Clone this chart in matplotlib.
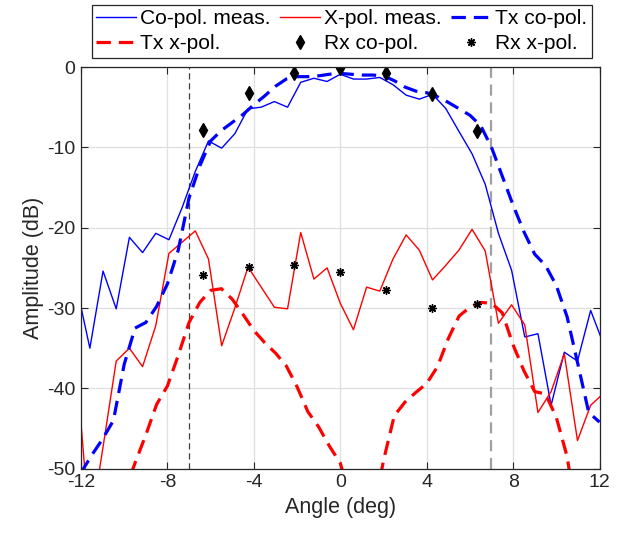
import numpy as np
import matplotlib.pyplot as plt

plt.rcParams['font.family'] = ['Liberation Sans', 'DejaVu Sans']
plt.rcParams['axes.unicode_minus'] = False

# measured cuts, sample step ~0.61 deg
meas_angle = np.round(np.arange(-20, 21) * 0.61, 2)
co_meas = [-27.4, -35.0, -25.4, -30.1, -21.2, -23.1, -20.7, -21.5, -17.5, -13.0,
           -9.2, -10.1, -8.3, -5.2, -5.0, -4.3, -5.0, -1.9, -1.4, -1.8,
           -0.9, -1.5, -1.5, -1.3, -2.2, -3.5, -4.0, -3.4, -5.15, -8.0,
           -10.8, -14.6, -20.7, -25.3, -33.6, -33.2, -42.1, -35.5, -36.6, -30.3,
           -34.6]
x_meas = [-37.9, -57.7, -47.3, -36.6, -35.0, -37.3, -32.2, -23.2, -21.8, -20.4,
          -23.9, -34.7, -30.0, -24.9, -27.4, -29.9, -30.1, -20.6, -26.4, -25.0,
          -29.4, -32.7, -27.4, -27.9, -23.9, -20.9, -22.8, -26.5, -24.7, -22.8,
          -20.2, -22.9, -31.9, -29.6, -32.1, -43.0, -40.4, -35.7, -46.5, -42.1,
          -40.6]

# simulated Tx patterns, 0.5 deg step
tx_angle = np.arange(-12, 12.5, 0.5)
tx_co = [-50.5, -48.3, -46.3, -44.0, -37.0, -32.5, -31.8, -29.8, -27.0, -22.8,
         -16.3, -12.3, -9.2, -7.9, -6.9, -5.9, -4.7, -3.6, -2.4, -1.5,
         -1.2, -1.2, -1.1, -0.9, -0.8, -0.9, -1.0, -1.0, -1.1, -1.7,
         -2.5, -3.0, -3.2, -3.7, -4.4, -5.2, -6.0, -7.3, -10.0, -13.6,
         -17.2, -20.5, -23.3, -24.7, -27.2, -31.1, -37.0, -43.0, -44.2]
tx_x = [-60, -60, -60, -58, -53, -49.3, -45.8, -42.0, -39.7, -35.9,
        -31.8, -29.3, -27.8, -27.6, -28.9, -30.8, -32.8, -34.3, -35.6, -37.2,
        -39.8, -42.9, -44.8, -47.2, -49.3, -54, -58, -56, -49.0, -43.4,
        -41.7, -40.5, -39.4, -37.3, -33.8, -31.0, -29.9, -29.3, -29.4, -30.6,
        -34.6, -37.8, -40.4, -40.7, -43.6, -48.5, -57, -60, -60]

# Rx measured points
rx_angle = [-6.35, -4.23, -2.12, 0, 2.12, 4.23, 6.35]
rx_co = [-7.8, -3.2, -0.8, -0.1, -0.8, -3.3, -8.0]
rx_x = [-25.9, -24.9, -24.7, -25.5, -27.7, -30.0, -29.5]

fig = plt.figure(figsize=(6.26, 5.37), dpi=100)
ax = fig.add_axes([0.1294, 0.1272, 0.8283, 0.748])

dash = (0, (4.5, 2.5))
h1, = ax.plot(meas_angle, co_meas, color='#0000ff', lw=1.0, label='Co-pol. meas.')
h2, = ax.plot(meas_angle, x_meas, color='#ff0000', lw=1.0, label='X-pol. meas.')
h3, = ax.plot(tx_angle, tx_co, color='#0000ff', lw=2.3, ls=dash, label='Tx co-pol.')
h4, = ax.plot(tx_angle, tx_x, color='#ff0000', lw=2.3, ls=dash, label='Tx x-pol.')
h5, = ax.plot(rx_angle, rx_co, ls='none', marker='d', color='k', ms=7,
              label='Rx co-pol.')
h6, = ax.plot(rx_angle, rx_x, ls='none', marker=(8, 2, 0), color='k', ms=6,
              mew=1.0, label='Rx x-pol.')

ax.axvline(-7, color='#404040', lw=0.9, ls=(0, (5, 3)), zorder=1)
ax.axvline(7, color='#a0a0a0', lw=1.6, ls=(0, (5, 3)), zorder=1)

ax.set_xlim(-12, 12)
ax.set_ylim(-50, 0)
ax.set_xticks([-12, -8, -4, 0, 4, 8, 12])
ax.set_yticks([-50, -40, -30, -20, -10, 0])
ax.grid(True, color='#dfdfdf', lw=0.9)
ax.set_axisbelow(True)
ax.tick_params(direction='in', top=True, right=True, length=5, width=0.8,
               labelsize=14, colors='#262626', pad=4)
for s in ax.spines.values():
    s.set_color('#262626')
    s.set_linewidth(0.9)
ax.set_xlabel('Angle (deg)', fontsize=15.5, color='#262626', labelpad=4)
ax.set_ylabel('Amplitude (dB)', fontsize=15.5, color='#262626', labelpad=2)

# legend filled row by row as in the original
handles = [h1, h4, h2, h5, h3, h6]
leg = fig.legend(handles=handles, labels=[h.get_label() for h in handles],
                 loc='upper left', bbox_to_anchor=(92 / 626, 1 - 5 / 537), ncol=3,
                 fontsize=15.1, frameon=True, fancybox=False, framealpha=1,
                 edgecolor='#262626', handlelength=1.9, handletextpad=0.2,
                 columnspacing=0.45, borderpad=0.2, labelspacing=0.3,
                 borderaxespad=0)
leg.get_frame().set_linewidth(0.9)

fig.savefig('out.png', dpi=100)
